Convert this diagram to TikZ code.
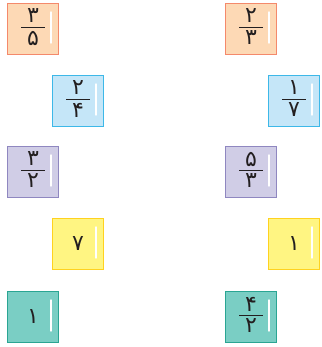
\documentclass[tikz,border=0pt]{standalone}
\usepackage{fontspec}
\newfontfamily\arabicfont[Script=Arabic]{DejaVu Sans}
\TeXXeTstate=1
\definecolor{orF}{HTML}{FDD9B5}\definecolor{orD}{HTML}{F4896B}
\definecolor{blF}{HTML}{C5E6F8}\definecolor{blD}{HTML}{3DB8E8}
\definecolor{puF}{HTML}{D0CDE6}\definecolor{puD}{HTML}{8F87C0}
\definecolor{yeF}{HTML}{FFF582}\definecolor{yeD}{HTML}{FFD21F}
\definecolor{teF}{HTML}{7ACEC4}\definecolor{teD}{HTML}{2AA593}
\definecolor{ink}{HTML}{231F20}
\newcommand\tileat[4]{% name, x, y, colour prefix
  \node[tilebox, fill=#4F, draw=#4D] (#1) at (#2+26,#3+26) {};
  \draw[shine] ([shift={(18,-17)}]#1.center) -- ([shift={(18,14)}]#1.center);
}
\newcommand\fracin[3]{% tile, num, den
  \node[digit] (#1n) at ([shift={(0,-13)}]#1.center) {\beginR #2\endR};
  \node[digit] (#1d) at ([shift={(0,9)}]#1.center) {\beginR #3\endR};
  \draw[fracbar] ([shift={(-12,-2)}]#1.center) -- ([shift={(12,-2)}]#1.center);
}
\newcommand\onein[2]{%
  \node[digit] (#1n) at ([shift={(0,0)}]#1.center) {\beginR #2\endR};
}
\tikzset{
  tilebox/.style={rectangle, minimum width=51pt, minimum height=51pt, inner sep=0pt, line width=1.3pt},
  shine/.style={white, line width=1.4pt, line cap=round},
  digit/.style={font=\arabicfont\fontsize{22}{24}\selectfont, text=ink, inner sep=0pt},
  fracbar/.style={ink, line width=0.9pt}
}
\begin{document}
\begin{tikzpicture}[x=1pt,y=-1pt]
\useasboundingbox (0,0) rectangle (321,347);
\tileat{a}{7}{3}{or} \fracin{a}{۳}{۵}
\tileat{b}{52}{75}{bl} \fracin{b}{۲}{۴}
\tileat{c}{7}{146}{pu} \fracin{c}{۳}{۲}
\tileat{d}{52}{218}{ye} \onein{d}{۷}
\tileat{e}{7}{291}{te} \onein{e}{۱}
\tileat{f}{225}{3}{or} \fracin{f}{۲}{۳}
\tileat{g}{268}{75}{bl} \fracin{g}{۱}{۷}
\tileat{h}{225}{146}{pu} \fracin{h}{۵}{۳}
\tileat{i}{268}{218}{ye} \onein{i}{۱}
\tileat{j}{225}{291}{te} \fracin{j}{۴}{۲}
\end{tikzpicture}
\end{document}
